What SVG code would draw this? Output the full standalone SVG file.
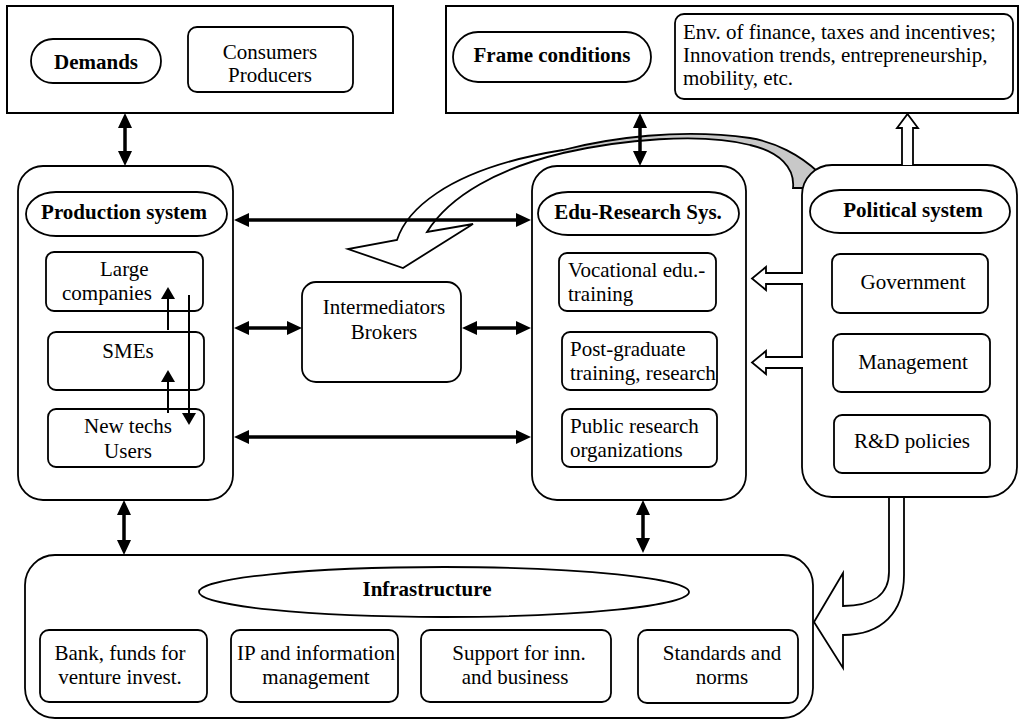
<svg xmlns="http://www.w3.org/2000/svg" width="1021" height="720" viewBox="0 0 1021 720">
<style>
text{font-family:"Liberation Serif","Times New Roman",serif;font-size:21px;fill:#000}
.b{font-weight:bold}
.m{text-anchor:middle}
.box{fill:#fff;stroke:#000;stroke-width:1.8}
.frame{fill:#fff;stroke:#000;stroke-width:2}
.thick{stroke:#000;stroke-width:3.5;fill:none}
.thin{stroke:#000;stroke-width:2;fill:none}
.hollow{fill:#fff;stroke:#000;stroke-width:1.8;stroke-linejoin:miter}
</style>
<defs>
<marker id="ah" viewBox="0 0 15 14" markerWidth="15" markerHeight="14" refX="5" refY="7" orient="auto-start-reverse" markerUnits="userSpaceOnUse"><path d="M0,0 L15,7 L0,14 z" fill="#000"/></marker>
<marker id="at" viewBox="0 0 12 14" markerWidth="12" markerHeight="14" refX="4" refY="7" orient="auto" markerUnits="userSpaceOnUse"><path d="M0,0 L12,7 L0,14 z" fill="#000"/></marker>
</defs>
<rect width="1021" height="720" fill="#fff"/>

<g id="demands">
<rect class="frame" x="7" y="6" width="386" height="107"/>
<rect class="box" x="31" y="39" width="130" height="44" rx="22"/>
<text class="b m" x="96" y="69">Demands</text>
<rect class="box" x="188" y="27" width="165" height="65" rx="9"/>
<text class="m" x="270" y="59">Consumers</text>
<text class="m" x="270" y="82">Producers</text>
</g>

<g id="frame-conditions">
<rect class="frame" x="446" y="6" width="572" height="107"/>
<rect class="box" x="453" y="32" width="198" height="50" rx="25"/>
<text class="b m" x="552" y="62">Frame conditions</text>
<rect class="box" x="675" y="14" width="338" height="85" rx="9"/>
<text x="683" y="39">Env. of finance, taxes and incentives;</text>
<text x="683" y="62">Innovation trends, entrepreneurship,</text>
<text x="683" y="85">mobility, etc.</text>
</g>

<g id="curved-arrow">
<path fill="#fff" stroke="none" d="M818,172 C800,155 775,142 750,138 C680,128 610,138 563,150 C440,170 405,215 397,240 L348,249 L403,268 L473,224 L427,232 C450,195 500,168 563,153 C620,140 700,132 750,145 C780,152 795,168 793,188 L806,188 Z"/>
<path fill="#c8c8c8" stroke="none" d="M563,150 C610,138 680,128 750,138 C775,142 800,155 818,172 L806,188 L793,188 C795,168 780,152 750,145 C700,132 620,140 563,153 Z"/>
<path fill="none" stroke="#000" stroke-width="1.8" d="M818,172 C800,155 775,142 750,138 C680,128 610,138 563,150 C440,170 405,215 397,240 L348,249 L403,268 L473,224 L427,232 C450,195 500,168 563,153 C620,140 700,132 750,145 C780,152 795,168 793,188 L806,188"/>
</g>

<g id="production-system">
<rect class="box" x="18" y="166" width="215" height="334" rx="25"/>
<rect class="box" x="26" y="192" width="201" height="44" rx="30" ry="22"/>
<text class="b m" x="124" y="219">Production system</text>
<rect class="box" x="46" y="252" width="157" height="59" rx="8"/>
<text x="100" y="276">Large</text>
<text x="62" y="300">companies</text>
<rect class="box" x="48" y="332" width="156" height="58" rx="8"/>
<text class="m" x="128" y="358">SMEs</text>
<rect class="box" x="48" y="409" width="156" height="58" rx="8"/>
<text class="m" x="128" y="433">New techs</text>
<text class="m" x="128" y="458">Users</text>
</g>

<g id="intermediators">
<rect class="box" x="302" y="282" width="159" height="100" rx="14"/>
<text class="m" x="384" y="314">Intermediators</text>
<text class="m" x="384" y="339">Brokers</text>
</g>

<g id="edu-research">
<rect class="box" x="532" y="166" width="214" height="334" rx="25"/>
<rect class="box" x="538" y="192" width="201" height="43" rx="30" ry="21.5"/>
<text class="b m" x="638" y="219">Edu-Research Sys.</text>
<rect class="box" x="559" y="253" width="157" height="58" rx="8"/>
<text x="568" y="277">Vocational edu.-</text>
<text x="568" y="301">training</text>
<rect class="box" x="562" y="332" width="155" height="58" rx="8"/>
<text x="570" y="356">Post-graduate</text>
<text x="570" y="380">training, research</text>
<rect class="box" x="562" y="409" width="155" height="58" rx="8"/>
<text x="570" y="433">Public research</text>
<text x="570" y="457">organizations</text>
</g>

<g id="political-system">
<rect class="box" x="802" y="165" width="215" height="332" rx="30"/>
<rect class="box" x="810" y="190" width="200" height="43" rx="30" ry="21.5"/>
<text class="b m" x="913" y="217">Political system</text>
<rect class="box" x="832" y="254" width="156" height="59" rx="8"/>
<text class="m" x="913" y="289">Government</text>
<rect class="box" x="833" y="334" width="157" height="58" rx="8"/>
<text class="m" x="913" y="369">Management</text>
<rect class="box" x="834" y="415" width="156" height="58" rx="8"/>
<text class="m" x="912" y="448">R&amp;D policies</text>
</g>

<g id="infrastructure">
<rect class="box" x="25" y="555" width="788" height="163" rx="30"/>
<ellipse class="box" cx="444" cy="592" rx="245" ry="25"/>
<text class="b m" x="427" y="596">Infrastructure</text>
<rect class="box" x="40" y="630" width="167" height="72" rx="9"/>
<text class="m" x="120" y="660">Bank, funds for</text>
<text class="m" x="120" y="684">venture invest.</text>
<rect class="box" x="231" y="630" width="167" height="72" rx="9"/>
<text class="m" x="316" y="660">IP and information</text>
<text class="m" x="316" y="684">management</text>
<rect class="box" x="421" y="630" width="190" height="72" rx="9"/>
<text class="m" x="519" y="660">Support for inn.</text>
<text class="m" x="515" y="684">and business</text>
<rect class="box" x="638" y="630" width="160" height="73" rx="9"/>
<text class="m" x="722" y="660">Standards and</text>
<text class="m" x="722" y="684">norms</text>
</g>

<g id="connectors">
<line class="thick" x1="125" y1="123" x2="125" y2="156" marker-start="url(#ah)" marker-end="url(#ah)"/>
<line class="thick" x1="640" y1="123" x2="640" y2="156" marker-start="url(#ah)" marker-end="url(#ah)"/>
<line class="thick" x1="244" y1="220" x2="521" y2="220" marker-start="url(#ah)" marker-end="url(#ah)"/>
<line class="thick" x1="244" y1="328" x2="292" y2="328" marker-start="url(#ah)" marker-end="url(#ah)"/>
<line class="thick" x1="472" y1="328" x2="521" y2="328" marker-start="url(#ah)" marker-end="url(#ah)"/>
<line class="thick" x1="244" y1="437" x2="521" y2="437" marker-start="url(#ah)" marker-end="url(#ah)"/>
<line class="thick" x1="124" y1="510" x2="124" y2="545" marker-start="url(#ah)" marker-end="url(#ah)"/>
<line class="thick" x1="643" y1="510" x2="643" y2="543" marker-start="url(#ah)" marker-end="url(#ah)"/>
<line class="thin" x1="168" y1="330" x2="168" y2="295" marker-end="url(#at)"/>
<line class="thin" x1="168" y1="413" x2="168" y2="378" marker-end="url(#at)"/>
<line class="thin" x1="189" y1="295" x2="189" y2="417" marker-end="url(#at)"/>
<path class="hollow" d="M902,165 L902,128 L897,128 L907.5,114 L918,128 L913,128 L913,165"/>
<path class="hollow" d="M803,273 L766,273 L766,267 L752,278.5 L766,290 L766,284 L803,284"/>
<path class="hollow" d="M803,357 L766,357 L766,351 L752,362.5 L766,374 L766,368 L803,368"/>
<path class="hollow" d="M889,498 L889,572 C889,595 872,606 843,606 L843,573 L814,622 L843,668 L843,635 C882,635 904,612 904,575 L904,498"/>
</g>
</svg>
